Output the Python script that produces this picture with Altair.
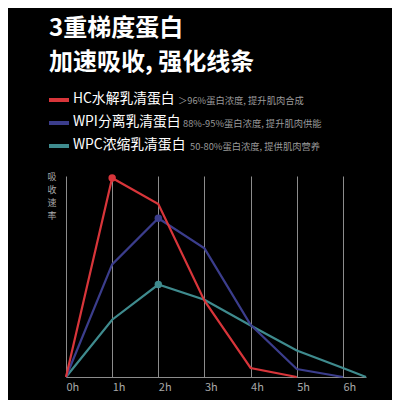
import altair as alt
import pandas as pd

# ---- data ----
hours_hc = [0, 1, 2, 3, 4, 5]
rate_hc = [0, 99, 86, 38, 4.5, 0]
hours_wpi = [0, 1, 2, 3, 4, 5, 6]
rate_wpi = [0, 56, 79, 64, 26, 4, 0]
hours_wpc = [0, 1, 2, 3, 4, 5, 6, 6.5]
rate_wpc = [0, 28.5, 46, 38.4, 25.6, 13.2, 4.5, 0]

series_names = ["HC水解乳清蛋白", "WPI分离乳清蛋白", "WPC浓缩乳清蛋白"]
series_desc = ["＞96%蛋白浓度, 提升肌肉合成", "88%-95%蛋白浓度, 提升肌肉供能", "50-80%蛋白浓度, 提供肌肉营养"]
series_colors = ["#d8353a", "#3b3d8c", "#3f8b8e"]
peak_hours = [1, 2, 2]
tick_hours = [0, 1, 2, 3, 4, 5, 6]
title_lines = ["3重梯度蛋白", "加速吸收, 强化线条"]
y_label = "吸收速率"

FONT = "Noto Sans CJK SC"

frames = []
for name, hs, rs in zip(series_names, [hours_hc, hours_wpi, hours_wpc], [rate_hc, rate_wpi, rate_wpc]):
    frames.append(pd.DataFrame({"series": name, "hour": hs, "rate": rs}))
df = pd.concat(frames, ignore_index=True)

peaks = []
for name, ph, hs, rs in zip(series_names, peak_hours, [hours_hc, hours_wpi, hours_wpc], [rate_hc, rate_wpi, rate_wpc]):
    peaks.append({"series": name, "hour": ph, "rate": rs[hs.index(ph)]})
peak_df = pd.DataFrame(peaks)

W, H = 300, 201

xscale = alt.Scale(domain=[0, 6.5], nice=False, zero=False)
yscale = alt.Scale(domain=[0, 100], nice=False)
cscale = alt.Scale(domain=series_names, range=series_colors)

xaxis = alt.Axis(values=tick_hours, labelExpr="datum.value + 'h'", grid=True, gridColor="#8c8c8c",
                 gridWidth=1, domain=True, domainColor="#8c8c8c", domainWidth=1.2, ticks=False,
                 labelAlign="left", labelColor="#a8a8a8", labelFontSize=11, labelFont=FONT,
                 labelPadding=4, title=None, labelFlush=False)
yaxis = alt.Axis(grid=False, domain=False, ticks=False, labels=False, title=None)

base = alt.Chart(df)

grid = base.mark_line(opacity=0).encode(
    x=alt.X("hour:Q", scale=xscale, axis=xaxis),
    y=alt.Y("rate:Q", scale=yscale, axis=yaxis),
)

layers = [grid]
for name in reversed(series_names):
    layers.append(
        base.transform_filter(alt.datum.series == name).mark_line(strokeWidth=2.2).encode(
            x=alt.X("hour:Q", scale=xscale),
            y=alt.Y("rate:Q", scale=yscale),
            color=alt.Color("series:N", scale=cscale, legend=None),
        )
    )

points = alt.Chart(peak_df).mark_point(filled=True, size=55, opacity=1).encode(
    x=alt.X("hour:Q", scale=xscale),
    y=alt.Y("rate:Q", scale=yscale),
    color=alt.Color("series:N", scale=cscale, legend=None),
)
layers.append(points)

# Title lines
title_y = [-147, -113]
for t, yy in zip(title_lines, title_y):
    layers.append(
        alt.Chart(pd.DataFrame({"t": [t]})).mark_text(
            align="left", baseline="middle", font=FONT, fontSize=24, fontWeight="bold", color="white"
        ).encode(text="t:N", x=alt.value(-17), y=alt.value(yy))
    )

# Legend rows
row_y = [-77, -54, -31]
desc_x = [112, 117, 124]
for name, desc, col, yy, dx in zip(series_names, series_desc, series_colors, row_y, desc_x):
    layers.append(
        alt.Chart(pd.DataFrame({"n": [name]})).mark_rule(strokeWidth=4, color=col).encode(
            x=alt.value(-17), x2=alt.value(3), y=alt.value(yy + 1)
        )
    )
    layers.append(
        alt.Chart(pd.DataFrame({"n": [name]})).mark_text(
            align="left", baseline="middle", font=FONT, fontSize=13.8, color="white"
        ).encode(text="n:N", x=alt.value(7), y=alt.value(yy))
    )
    layers.append(
        alt.Chart(pd.DataFrame({"d": [desc]})).mark_text(
            align="left", baseline="middle", font=FONT, fontSize=9.3, color="#9a9a9a"
        ).encode(text="d:N", x=alt.value(dx), y=alt.value(yy + 2))
    )

# y axis label, vertical stacked chars
for i, ch in enumerate(list(y_label)):
    layers.append(
        alt.Chart(pd.DataFrame({"c": [ch]})).mark_text(
            align="center", baseline="middle", font=FONT, fontSize=9, color="#a8a8a8"
        ).encode(text="c:N", x=alt.value(-14), y=alt.value(1 + i * 13))
    )

chart = alt.layer(*layers).properties(
    width=W, height=H,
    background="black",
    padding={"left": 58, "top": 168, "right": 26, "bottom": 23},
    autosize=alt.AutoSizeParams(type="none"),
).configure_view(stroke=None)

chart.save("out.html", embed_options={"renderer": "svg", "actions": False})
